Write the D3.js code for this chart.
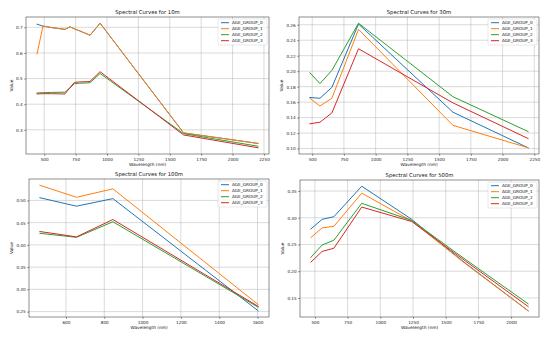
<!DOCTYPE html>
<html><head><meta charset="utf-8">
<script src="https://cdn.jsdelivr.net/npm/d3@7"></script>
<style>
body{margin:0;background:#fff}
svg{display:block}
text{font-family:"DejaVu Sans",sans-serif}
</style>
</head><body>
<svg id="c" width="550" height="340"></svg>
<script>
// ---------- data ----------
const groups = ["AGE_GROUP_0", "AGE_GROUP_1", "AGE_GROUP_2", "AGE_GROUP_3"];
const colors = ["#1f77b4", "#ff7f0e", "#2ca02c", "#d62728"];

const wl10 = [443, 490, 560, 665, 705, 740, 783, 842, 865, 945, 1610, 2202];
const v10_0 = [0.712, 0.705, 0.699, 0.692, 0.702, 0.694, 0.686, 0.674, 0.669, 0.716, 0.288, 0.247];
const v10_1 = [0.596, 0.705, 0.699, 0.692, 0.702, 0.694, 0.686, 0.674, 0.669, 0.716, 0.288, 0.247];
const v10_2 = [0.444, 0.445, 0.446, 0.447, 0.463, 0.480, 0.482, 0.483, 0.484, 0.520, 0.285, 0.236];
const v10_3 = [0.440, 0.441, 0.441, 0.440, 0.465, 0.485, 0.487, 0.488, 0.489, 0.527, 0.280, 0.230];

const wl30 = [482, 561, 655, 865, 1609, 2201];
const v30_0 = [0.166, 0.165, 0.179, 0.261, 0.147, 0.101];
const v30_1 = [0.165, 0.155, 0.165, 0.254, 0.130, 0.101];
const v30_2 = [0.198, 0.184, 0.201, 0.262, 0.167, 0.122];
const v30_3 = [0.132, 0.134, 0.146, 0.229, 0.159, 0.113];

const wl100 = [464, 655, 845, 1603];
const v100_0 = [0.506, 0.487, 0.504, 0.252];
const v100_1 = [0.534, 0.507, 0.526, 0.266];
const v100_2 = [0.426, 0.417, 0.452, 0.260];
const v100_3 = [0.430, 0.418, 0.457, 0.262];

const wl500 = [469, 555, 645, 858, 1240, 1640, 2130];
const v500_0 = [0.279, 0.297, 0.302, 0.359, 0.297, 0.217, 0.126];
const v500_1 = [0.263, 0.281, 0.284, 0.346, 0.294, 0.216, 0.126];
const v500_2 = [0.226, 0.249, 0.258, 0.327, 0.295, 0.224, 0.139];
const v500_3 = [0.217, 0.237, 0.243, 0.320, 0.293, 0.221, 0.134];

const xTicks10 = [500, 750, 1000, 1250, 1500, 1750, 2000, 2250];
const yTicks10 = [0.3, 0.4, 0.5, 0.6, 0.7];
const xTicks30 = [500, 750, 1000, 1250, 1500, 1750, 2000, 2250];
const yTicks30 = [0.10, 0.12, 0.14, 0.16, 0.18, 0.20, 0.22, 0.24, 0.26];
const xTicks100 = [600, 800, 1000, 1200, 1400, 1600];
const yTicks100 = [0.25, 0.30, 0.35, 0.40, 0.45, 0.50];
const xTicks500 = [500, 750, 1000, 1250, 1500, 1750, 2000];
const yTicks500 = [0.15, 0.20, 0.25, 0.30, 0.35];

const titles = ["Spectral Curves for 10m", "Spectral Curves for 30m", "Spectral Curves for 100m", "Spectral Curves for 500m"];
const xLabel = "Wavelength (nm)";
const yLabel = "Value";

// ---------- layout ----------
const panels = [
  {title: titles[0], wl: wl10, series: [v10_0, v10_1, v10_2, v10_3], xt: xTicks10, yt: yTicks10, yf: ".1f", box: {l: 26, r: 269, t: 17, b: 154}},
  {title: titles[1], wl: wl30, series: [v30_0, v30_1, v30_2, v30_3], xt: xTicks30, yt: yTicks30, yf: ".2f", box: {l: 299, r: 539, t: 17, b: 154}},
  {title: titles[2], wl: wl100, series: [v100_0, v100_1, v100_2, v100_3], xt: xTicks100, yt: yTicks100, yf: ".2f", box: {l: 29, r: 269, t: 179, b: 317}},
  {title: titles[3], wl: wl500, series: [v500_0, v500_1, v500_2, v500_3], xt: xTicks500, yt: yTicks500, yf: ".2f", box: {l: 300, r: 539, t: 180, b: 317}}
];

const svg = d3.select("#c");
svg.append("rect").attr("width", 550).attr("height", 340).attr("fill", "#fff");

const tickFont = 4.2, titleFont = 5.3, labelFont = 4.3, legendFont = 4.2;

function drawPanel(p) {
  const b = p.box;
  const g = svg.append("g");
  const [x0, x1] = d3.extent(p.wl); const dx = (x1 - x0) * 0.05;
  const [y0, y1] = d3.extent(p.series.flat()); const dy = (y1 - y0) * 0.05;
  const x = d3.scaleLinear().domain([x0 - dx, x1 + dx]).range([b.l, b.r]);
  const y = d3.scaleLinear().domain([y0 - dy, y1 + dy]).range([b.b, b.t]);

  // grid
  const grid = g.append("g").attr("stroke", "#b0b0b0").attr("stroke-width", 0.6).attr("stroke-opacity", 0.8);
  grid.selectAll(".gx").data(p.xt).join("line").attr("class", "gx")
    .attr("x1", d => x(d)).attr("x2", d => x(d)).attr("y1", b.t).attr("y2", b.b);
  grid.selectAll(".gy").data(p.yt).join("line").attr("class", "gy")
    .attr("y1", d => y(d)).attr("y2", d => y(d)).attr("x1", b.l).attr("x2", b.r);

  // lines
  const line = d3.line().x((d, i) => x(p.wl[i])).y(d => y(d));
  g.append("g").selectAll("path").data(p.series).join("path")
    .attr("d", line).attr("fill", "none")
    .attr("stroke", (d, i) => colors[i]).attr("stroke-width", 1)
    .attr("stroke-linejoin", "round").attr("stroke-linecap", "square");

  // frame
  g.append("rect").attr("x", b.l).attr("y", b.t).attr("width", b.r - b.l).attr("height", b.b - b.t)
    .attr("fill", "none").attr("stroke", "#222").attr("stroke-width", 0.5);

  // axes
  const xa = g.append("g").attr("transform", `translate(0,${b.b})`)
    .call(d3.axisBottom(x).tickValues(p.xt).tickFormat(d3.format("d")).tickSize(1.8).tickPadding(2.4));
  const ya = g.append("g").attr("transform", `translate(${b.l},0)`)
    .call(d3.axisLeft(y).tickValues(p.yt).tickFormat(d3.format(p.yf)).tickSize(1.8).tickPadding(1.5));
  [xa, ya].forEach(a => {
    a.select(".domain").remove();
    a.selectAll(".tick line").attr("stroke", "#222").attr("stroke-width", 0.5);
    a.selectAll(".tick text").attr("font-size", tickFont).attr("fill", "#222").attr("font-family", "DejaVu Sans");
  });

  // title
  g.append("text").attr("x", (b.l + b.r) / 2).attr("y", b.t - 2.6).attr("text-anchor", "middle")
    .attr("font-size", titleFont).attr("fill", "#111").text(p.title);
  // x label
  g.append("text").attr("x", (b.l + b.r) / 2).attr("y", b.b + 12).attr("text-anchor", "middle")
    .attr("font-size", labelFont).attr("fill", "#111").text(xLabel);
  // y label (placed left of widest tick label)
  let minX = b.l;
  ya.selectAll(".tick text").each(function () { const bb = this.getBBox(); minX = Math.min(minX, b.l + bb.x); });
  const yc = (b.t + b.b) / 2;
  g.append("text").attr("transform", `translate(${minX - 3.2},${yc}) rotate(-90)`).attr("text-anchor", "middle")
    .attr("font-size", labelFont).attr("fill", "#111").text(yLabel);

  // legend
  const lw = 49, lh = 26;
  const lx = b.r - 2 - lw, ly = b.t + 2;
  const lg = g.append("g");
  lg.append("rect").attr("x", lx).attr("y", ly).attr("width", lw).attr("height", lh).attr("rx", 1)
    .attr("fill", "#fff").attr("fill-opacity", 0.8).attr("stroke", "#d0d0d0").attr("stroke-width", 0.5);
  const items = lg.selectAll(".it").data(groups).join("g").attr("class", "it")
    .attr("transform", (d, i) => `translate(${lx + 3},${ly + 3.7 + i * 6})`);
  items.append("line").attr("x1", 0).attr("x2", 8).attr("y1", 0).attr("y2", 0)
    .attr("stroke", (d, i) => colors[i]).attr("stroke-width", 1);
  items.append("text").attr("x", 11).attr("y", 0).attr("dy", "0.35em")
    .attr("font-size", legendFont).attr("fill", "#111").text(d => d);
}

panels.forEach(drawPanel);
</script>
</body></html>
